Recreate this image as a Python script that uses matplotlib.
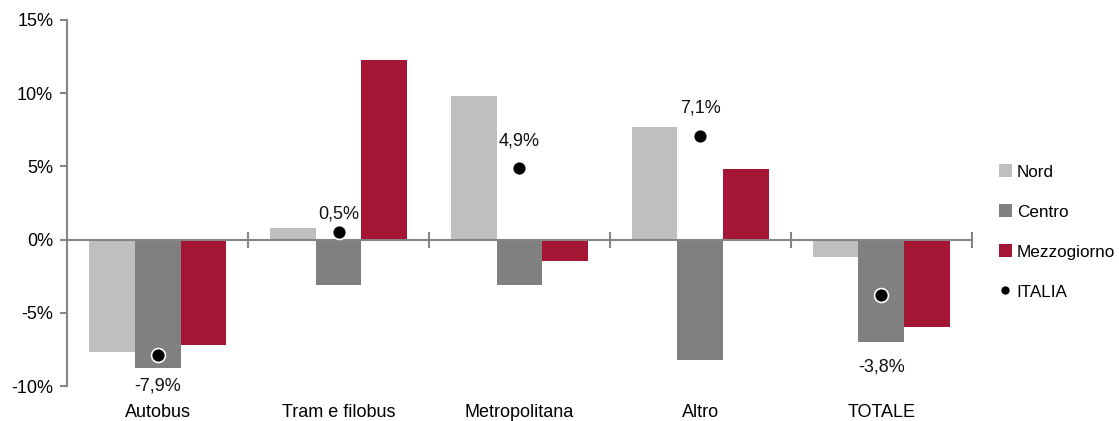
import matplotlib
matplotlib.use("Agg")
import matplotlib.pyplot as plt
from matplotlib.lines import Line2D
from matplotlib.patches import Patch
import numpy as np

plt.rcParams['font.family'] = ['Liberation Sans', 'DejaVu Sans']

categories = ["Autobus", "Tram e filobus", "Metropolitana", "Altro", "TOTALE"]
nord = [-7.7, 0.8, 9.8, 7.7, -1.2]
centro = [-8.8, -3.1, -3.1, -8.2, -7.0]
mezzogiorno = [-7.2, 12.3, -1.45, 4.85, -6.0]
italia = [-7.9, 0.5, 4.9, 7.1, -3.8]
italia_labels = ["-7,9%", "0,5%", "4,9%", "7,1%", "-3,8%"]
yticks = [-10, -5, 0, 5, 10, 15]
ytick_labels = ["-10%", "-5%", "0%", "5%", "10%", "15%"]

c_nord = "#BFBFBF"
c_centro = "#808080"
c_mezz = "#A51534"
axis_col = "#868686"

fig = plt.figure(figsize=(11.19, 4.21), dpi=100)
ax = fig.add_axes([0.0599, 0.0831, 0.8087, 0.8694])

x = np.arange(len(categories))
w = 0.254
ax.bar(x - w, nord, w, color=c_nord, zorder=2)
ax.bar(x, centro, w, color=c_centro, zorder=2)
ax.bar(x + w, mezzogiorno, w, color=c_mezz, zorder=2)

ax.plot(x, italia, linestyle='none', marker='o', markersize=10,
        markerfacecolor='black', markeredgecolor='white', markeredgewidth=1.2, zorder=4)

offsets = [(0, -22), (0, 13), (0, 19), (0, 20), (0, -52)]
for xi, yi, lab, off in zip(x, italia, italia_labels, offsets):
    ax.annotate(lab, (xi, yi), xytext=off, textcoords='offset points',
                ha='center', va='center', fontsize=13, color='#111111')

ax.set_xlim(-0.5, len(categories) - 0.5)
ax.set_ylim(-10, 15)

# zero line with boundary ticks
ax.axhline(0, color=axis_col, linewidth=1.5, zorder=3)
bounds = np.arange(len(categories) + 1) - 0.5
ax.plot(bounds[1:], np.zeros(len(bounds) - 1), linestyle='none', marker='|',
        markersize=11, markeredgewidth=1.5, color=axis_col, zorder=3)

ax.set_xticks(x)
ax.set_xticklabels(categories, fontsize=13)
ax.tick_params(axis='x', length=0, pad=13)

ax.set_yticks(yticks)
ax.set_yticklabels(ytick_labels, fontsize=13)
ax.tick_params(axis='y', direction='out', length=5, width=1.5, color=axis_col, pad=5)

for s in ['top', 'right', 'bottom']:
    ax.spines[s].set_visible(False)
ax.spines['left'].set_color(axis_col)
ax.spines['left'].set_linewidth(1.5)

handles = [
    Patch(facecolor=c_nord, label="Nord"),
    Patch(facecolor=c_centro, label="Centro"),
    Patch(facecolor=c_mezz, label="Mezzogiorno"),
    Line2D([0], [0], linestyle='none', marker='o', markersize=5,
           markerfacecolor='black', markeredgecolor='black', label="ITALIA"),
]
fig.legend(handles=handles, loc='center left', bbox_to_anchor=(0.8925, 0.449),
           frameon=False, fontsize=12.3, handlelength=0.75, handleheight=0.75,
           handletextpad=0.3, labelspacing=1.45, borderpad=0, borderaxespad=0)

fig.savefig("out.png", dpi=100)
